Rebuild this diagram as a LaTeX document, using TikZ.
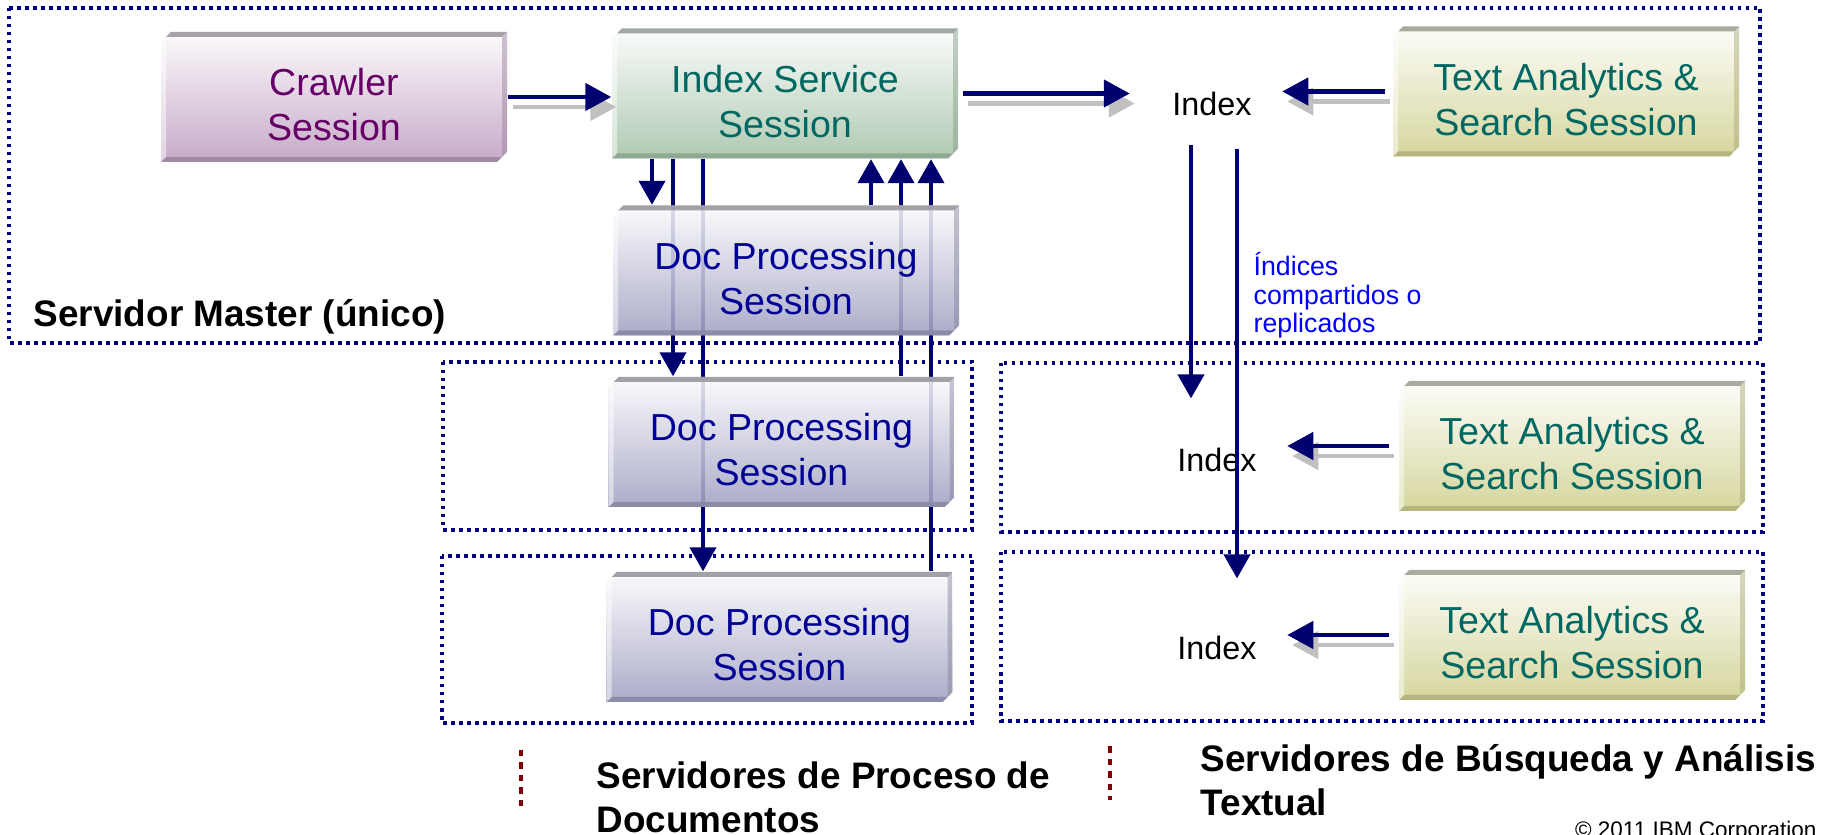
\documentclass[tikz,border=0pt]{standalone}
\usepackage{fontspec}
\setmainfont{Liberation Sans}
\usepackage{tikz}
\usetikzlibrary{arrows.meta, shapes.misc, backgrounds}

\definecolor{navyarrow}{RGB}{0,0,110}
\definecolor{navyline}{RGB}{0,0,128}
\definecolor{crawlerfill}{RGB}{190,158,192}
\definecolor{indexfill}{RGB}{164,194,168}
\definecolor{docfill}{RGB}{160,160,194}
\definecolor{searchfill}{RGB}{208,208,144}
\definecolor{crawlertext}{RGB}{102,0,102}
\definecolor{tealtext}{RGB}{0,104,98}
\definecolor{doctext}{RGB}{0,0,150}
\definecolor{notetext}{RGB}{0,0,255}
\definecolor{legendred}{RGB}{128,0,0}
\definecolor{shadowgray}{RGB}{192,192,192}

\tikzset{
  session/.style 2 args={chamfered rectangle, chamfered rectangle corners={north west,south east},
    chamfered rectangle xsep=0.05cm, chamfered rectangle ysep=0.05cm,
    minimum width=3.46cm, minimum height=1.30cm, inner sep=0pt,
    top color=#1!5, bottom color=#1, text=#2, align=center,
    font=\fontsize{10.7}{12.8}\selectfont, fill opacity=0.88, text opacity=1,
    execute at begin node={\rule{0pt}{25pt}},
    path picture={
      \path (path picture bounding box.north west) coordinate (pnw)
            (path picture bounding box.north east) coordinate (pne)
            (path picture bounding box.south west) coordinate (psw)
            (path picture bounding box.south east) coordinate (pse);
      \fill[#1!40!black!55] (pnw) -- (pne) -- ([shift={(-0.05,-0.05)}]pne) -- ([shift={(0.05,-0.05)}]pnw) -- cycle;
      \fill[#1!80!black, opacity=0.45] (pne) -- (pse) -- ([shift={(-0.05,0.05)}]pse) -- ([shift={(-0.05,-0.05)}]pne) -- cycle;
      \fill[#1!85!black] (psw) -- (pse) -- ([shift={(-0.05,0.05)}]pse) -- ([shift={(0.05,0.05)}]psw) -- cycle;
      \fill[white, opacity=0.5] (pnw) -- (psw) -- ([shift={(0.05,0.05)}]psw) -- ([shift={(0.05,-0.05)}]pnw) -- cycle;
    }},
  servergroup/.style={draw=navyline, line width=0.035cm, dash pattern=on 0.035cm off 0.045cm},
  flow/.style={draw=navyarrow, line width=1.2pt, -{Triangle[length=0.24cm,width=0.26cm]}},
  hflow/.style={flow, line width=1.3pt, -{Triangle[length=0.26cm,width=0.27cm]}},
  hshadow/.style={hflow, draw=shadowgray, transform canvas={shift={(0.05,-0.1)}}},
  idx/.style={inner sep=0pt, font=\fontsize{9.2}{10}\selectfont},
  heading/.style={inner sep=0pt, align=left, font=\bfseries\fontsize{10.5}{12.5}\selectfont},
  legendbar/.style={draw=legendred, line width=0.045cm, dash pattern=on 0.065cm off 0.06cm},
}

\begin{document}
\begin{tikzpicture}
    \useasboundingbox (0,0) rectangle (18.33,-8.35);

    % sessions
    \node[session={crawlerfill}{crawlertext}] (crawler) at (3.34,-0.97) {Crawler\\Session};
    \node[session={indexfill}{tealtext}] (isvc) at (7.85,-0.935) {Index Service\\Session};
    \node[session={docfill}{doctext}] (dp1) at (7.86,-2.705) {Doc Processing\\Session};
    \node[session={docfill}{doctext}] (dp2) at (7.815,-4.42) {Doc Processing\\Session};
    \node[session={docfill}{doctext}] (dp3) at (7.795,-6.37) {Doc Processing\\Session};
    \node[session={searchfill}{tealtext}] (tas1) at (15.66,-0.915) {Text Analytics \&\\Search Session};
    \node[session={searchfill}{tealtext}] (tas2) at (15.72,-4.46) {Text Analytics \&\\Search Session};
    \node[session={searchfill}{tealtext}] (tas3) at (15.72,-6.35) {Text Analytics \&\\Search Session};

    % index stores
    \node[idx] (idx1) at (12.12,-1.04) {Index};
    \node[idx] (idx2) at (12.17,-4.60) {Index};
    \node[idx] (idx3) at (12.17,-6.48) {Index};
    \node[anchor=north west, inner sep=0pt, align=left, text=notetext,
        font=\fontsize{7.6}{8.1}\selectfont] (shared) at (12.53,-2.52) {Índices\\compartidos o\\replicados};

    % server groups and doc flows
    \begin{scope}[on background layer]
        \draw[servergroup] (0.09,-0.08) rectangle (17.60,-3.43);
        \draw[servergroup] (4.43,-3.62) rectangle (9.72,-5.30);
        \draw[servergroup] (4.42,-5.56) rectangle (9.72,-7.23);
        \draw[servergroup] (10.01,-3.63) rectangle (17.63,-5.32);
        \draw[servergroup] (10.01,-5.52) rectangle (17.63,-7.21);
        \foreach \x/\dst in {6.52/dp1, 6.73/dp2, 7.03/dp3} {
            \coordinate (col) at (\x,0);
            \draw[flow] (isvc.south -| col) -- (\dst.north -| col);
        }
        \foreach \x/\src in {8.71/dp1, 9.01/dp2, 9.31/dp3} {
            \coordinate (col) at (\x,0);
            \draw[flow] (\src.north -| col) -- (isvc.south -| col);
        }
    \end{scope}

    % horizontal arrows with their grey shadow
    \foreach \look in {hshadow, hflow} {
        \draw[\look] (crawler.east) -- (crawler.east -| isvc.west);
        \draw[\look, shorten <=0.04cm, shorten >=0.42cm] (isvc.east) -- (isvc.east -| idx1.west);
        \draw[\look, shorten <=0.07cm, shorten >=0.30cm] (tas1.west) -- (tas1.west -| idx1.east);
        \draw[\look, shorten <=0.09cm, shorten >=0.30cm] (tas2.west) -- (tas2.west -| idx2.east);
        \draw[\look, shorten <=0.09cm, shorten >=0.30cm] (tas3.west) -- (tas3.west -| idx3.east);
    }

    % replicated indices
    \coordinate (colg) at (11.91,0);
    \coordinate (colh) at (12.37,0);
    \draw[flow, shorten <=0.28cm, shorten >=0.49cm] (idx1.south -| colg) -- (idx2.north -| colg);
    \draw[flow, shorten <=0.32cm, shorten >=0.57cm] (idx1.south -| colh) -- (idx3.north -| colh);

    % labels
    \node[heading, anchor=base west] (master) at (0.33,-3.27) {Servidor Master (único)};
    \draw[legendbar] (5.21,-7.50) -- (5.21,-8.08);
    \node[heading, anchor=north west] (docservers) at (5.96,-7.61) {Servidores de Proceso de\\Documentos};
    \draw[legendbar] (11.10,-7.46) -- (11.10,-8.00);
    \node[heading, anchor=north west] (searchservers) at (12.00,-7.44) {Servidores de Búsqueda y Análisis\\Textual};
    \node[anchor=base east, inner sep=0pt, font=\fontsize{6.4}{7}\selectfont] (corp) at (18.17,-8.37) {© 2011 IBM Corporation};
\end{tikzpicture}
\end{document}
